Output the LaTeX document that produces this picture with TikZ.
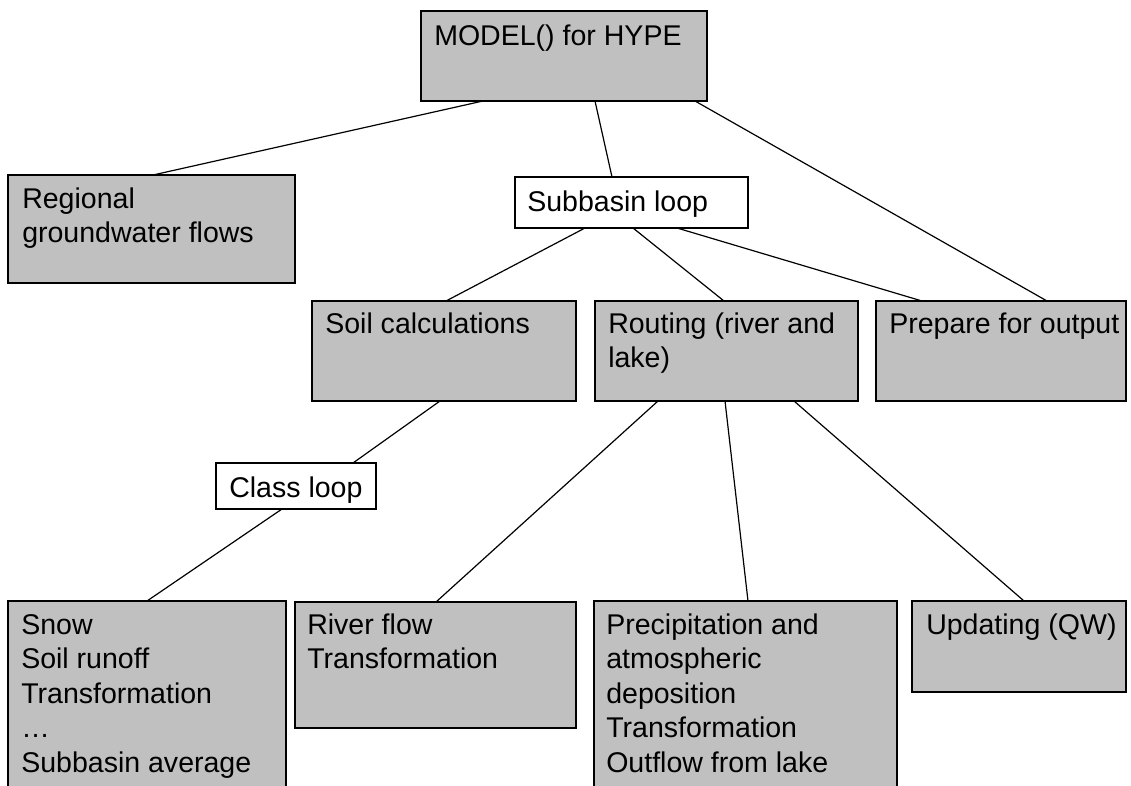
\documentclass[tikz,border=0pt]{standalone}
\usepackage{fontspec}
\setmainfont{Liberation Sans}
\usetikzlibrary{calc}
\definecolor{boxgray}{HTML}{C0C0C0}
\newcommand{\boxlines}[1]{\begin{tabular}[t]{@{}l@{}}#1\end{tabular}}
\begin{document}
\begin{tikzpicture}[x=0.75pt,y=-0.75pt,
  gbox/.style={draw=black, line width=0.8pt, fill=boxgray, inner sep=0pt, outer sep=0pt, anchor=north west},
  wbox/.style={draw=black, line width=0.8pt, fill=white, inner sep=0pt, outer sep=0pt, anchor=north west},
  txt/.style={anchor=base west, inner sep=0pt, font=\fontsize{21.4pt}{25.9pt}\selectfont},
  conn/.style={draw=black, line width=0.9pt}]
\useasboundingbox (0,0) rectangle (1131,785);
\clip (0,0) rectangle (1131,785);
% connectors are drawn after boxes are defined, so define boxes first
\node[gbox, minimum width=214.5pt, minimum height=67.5pt] (model) at (421,11) {};
\node[gbox, minimum width=215.25pt, minimum height=81pt] (regional) at (8,175) {};
\node[wbox, minimum width=174.75pt, minimum height=38.25pt] (subbasin) at (515,177) {};
\node[gbox, minimum width=198pt, minimum height=75pt] (soil) at (312,301) {};
\node[gbox, minimum width=197.25pt, minimum height=75pt] (routing) at (595,301) {};
\node[gbox, minimum width=187.5pt, minimum height=75pt] (prepare) at (876,301) {};
\node[wbox, minimum width=120pt, minimum height=34.5pt] (classloop) at (216,463) {};
\node[gbox, minimum width=208.5pt, minimum height=165pt] (snow) at (8,601) {};
\node[gbox, minimum width=210.75pt, minimum height=94.5pt] (river) at (295,602) {};
\node[gbox, minimum width=227.25pt, minimum height=165pt] (precip) at (594,601) {};
\node[gbox, minimum width=160.5pt, minimum height=68.25pt] (updating) at (912,601) {};

\node[txt] (tmodel) at ($(model.north west)+(13,34)$) {MODEL() for HYPE};
\node[txt] (tregional) at ($(regional.north west)+(14,33)$) {\boxlines{Regional\\groundwater flows}};
\node[txt] (tsubbasin) at ($(subbasin.north west)+(12,34)$) {Subbasin loop};
\node[txt] (tsoil) at ($(soil.north west)+(13,32)$) {Soil calculations};
\node[txt] (trouting) at ($(routing.north west)+(13,32)$) {\boxlines{Routing (river and\\lake)}};
\node[txt] (tprepare) at ($(prepare.north west)+(13,32)$) {Prepare for output};
\node[txt] (tclassloop) at ($(classloop.north west)+(13,34)$) {Class loop};
\node[txt] (tsnow) at ($(snow.north west)+(13,33)$) {\boxlines{Snow\\Soil runoff\\Transformation\\…\\Subbasin average}};
\node[txt] (triver) at ($(river.north west)+(12,32)$) {\boxlines{River flow\\Transformation}};
\node[txt] (tprecip) at ($(precip.north west)+(12,33)$) {\boxlines{Precipitation and\\atmospheric\\deposition\\Transformation\\Outflow from lake}};
\node[txt] (tupdating) at ($(updating.north west)+(14,33)$) {Updating (QW)};

\draw[conn] ($(model.south west)+(62,0)$) -- ($(regional.north west)+(145,0)$);
\draw[conn] ($(model.south west)+(174,0)$) -- ($(subbasin.north west)+(97,0)$);
\draw[conn] ($(model.south west)+(274,0)$) -- ($(prepare.north west)+(171,0)$);
\draw[conn] ($(subbasin.south west)+(70,0)$) -- ($(soil.north west)+(134,0)$);
\draw[conn] ($(subbasin.south west)+(118,0)$) -- ($(routing.north west)+(129,0)$);
\draw[conn] ($(subbasin.south west)+(162,0)$) -- ($(prepare.north west)+(46,0)$);
\draw[conn] ($(soil.south west)+(128,0)$) -- ($(classloop.north west)+(137,0)$);
\draw[conn] ($(classloop.south west)+(66,0)$) -- ($(snow.north west)+(139,0)$);
\draw[conn] ($(routing.south west)+(63,0)$) -- ($(river.north west)+(141,0)$);
\draw[conn] ($(routing.south west)+(130,0)$) -- ($(precip.north west)+(154,0)$);
\draw[conn] ($(routing.south west)+(199,0)$) -- ($(updating.north west)+(112,0)$);
\end{tikzpicture}
\end{document}
